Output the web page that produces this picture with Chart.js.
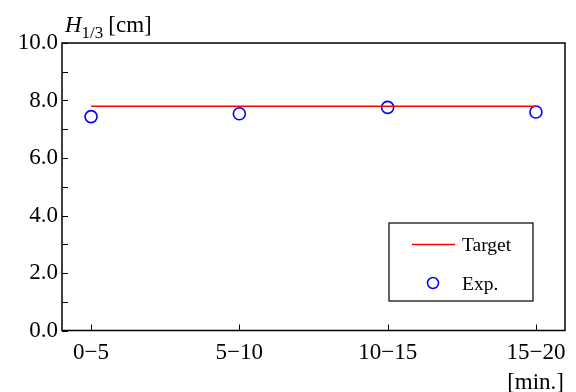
<!DOCTYPE html>
<html>
<head>
<meta charset="utf-8">
<script src="https://cdn.jsdelivr.net/npm/chart.js@4"></script>
<style>
  html, body { margin: 0; padding: 0; background: #fff; }
  #wrap { width: 576px; height: 392px; }
</style>
</head>
<body>
<div id="wrap"><canvas id="c" width="576" height="392"></canvas></div>
<script>
// ── Data ─────────────────────────────────────────────────────────────────────
const categories = ['0\u22125', '5\u221210', '10\u221215', '15\u221220'];
const targetValues = [7.8, 7.8, 7.8, 7.8];
const expValues = [7.44, 7.54, 7.76, 7.6];
const yTicks = [0, 2, 4, 6, 8, 10];
const yMinorTicks = [1, 3, 5, 7, 9];

const FONT = '"Liberation Serif", "Times New Roman", serif';

// ── Frame, inward ticks, axis titles and legend ──────────────────────────────
const framePlugin = {
  id: 'frame',
  afterDraw(chart) {
    const { ctx, chartArea: a, scales } = chart;
    ctx.save();
    ctx.strokeStyle = '#000';
    ctx.lineWidth = 1.5;
    ctx.strokeRect(a.left, a.top, a.right - a.left, a.bottom - a.top);

    // y ticks point inward
    ctx.lineWidth = 1;
    yTicks.concat(yMinorTicks).forEach(v => {
      const y = Math.round(scales.y.getPixelForValue(v)) + 0.5;
      ctx.beginPath();
      ctx.moveTo(a.left, y);
      ctx.lineTo(a.left + 6, y);
      ctx.stroke();
    });
    // x ticks point inward
    categories.forEach((_, i) => {
      const x = Math.round(scales.x.getPixelForValue(i)) + 0.5;
      ctx.beginPath();
      ctx.moveTo(x, a.bottom);
      ctx.lineTo(x, a.bottom - 6);
      ctx.stroke();
    });

    // y axis title: H_{1/3} [cm]
    ctx.fillStyle = '#000';
    ctx.textBaseline = 'alphabetic';
    ctx.textAlign = 'left';
    ctx.font = 'italic 23px ' + FONT;
    let x = 65;
    ctx.fillText('H', x, 32);
    x += ctx.measureText('H').width;
    ctx.font = '17px ' + FONT;
    ctx.fillText('1/3', x, 38);
    x += ctx.measureText('1/3').width + 5;
    ctx.font = '23px ' + FONT;
    ctx.fillText('[cm]', x, 32);

    // x axis title
    ctx.textAlign = 'right';
    ctx.fillText('[min.]', 564, 389);

    // legend box
    const lx = 389, ly = 223, lw = 144, lh = 78;
    ctx.lineWidth = 1.2;
    ctx.strokeRect(lx, ly, lw, lh);
    const ds = chart.data.datasets;
    ctx.strokeStyle = ds[0].borderColor;
    ctx.lineWidth = 1.5;
    ctx.beginPath();
    ctx.moveTo(412, 244.5);
    ctx.lineTo(455, 244.5);
    ctx.stroke();
    ctx.strokeStyle = ds[1].pointBorderColor;
    ctx.beginPath();
    ctx.arc(433, 283, 5.5, 0, Math.PI * 2);
    ctx.stroke();
    ctx.fillStyle = '#000';
    ctx.textAlign = 'left';
    ctx.textBaseline = 'middle';
    ctx.font = '19.5px ' + FONT;
    ctx.fillText(ds[0].label, 462, 246);
    ctx.fillText(ds[1].label, 462, 285);
    ctx.restore();
  }
};

new Chart(document.getElementById('c'), {
  type: 'scatter',
  data: {
    datasets: [
      {
        label: 'Target',
        type: 'line',
        data: targetValues.map((v, i) => ({ x: i, y: v })),
        borderColor: '#ff0000',
        borderWidth: 1.5,
        pointRadius: 0,
        fill: false
      },
      {
        label: 'Exp.',
        data: expValues.map((v, i) => ({ x: i, y: v })),
        pointStyle: 'circle',
        pointRadius: 6,
        pointBorderWidth: 1.6,
        pointBorderColor: '#0000ff',
        pointBackgroundColor: 'rgba(0,0,0,0)'
      }
    ]
  },
  options: {
    responsive: false,
    animation: false,
    devicePixelRatio: 1,
    layout: { padding: { top: 43, right: 11, left: 0, bottom: 0 } },
    plugins: { legend: { display: false }, tooltip: { enabled: false } },
    scales: {
      x: {
        type: 'linear',
        min: -0.196,
        max: 3.196,
        afterBuildTicks: s => { s.ticks = categories.map((_, i) => ({ value: i })); },
        ticks: {
          callback: v => categories[v],
          color: '#000',
          font: { family: FONT, size: 23 },
          padding: 9,
          maxRotation: 0
        },
        grid: { display: false, drawTicks: false },
        border: { display: false },
        afterFit: s => { s.height = 61.5; }
      },
      y: {
        min: 0,
        max: 10,
        afterBuildTicks: s => { s.ticks = yTicks.map(v => ({ value: v })); },
        ticks: {
          callback: v => v.toFixed(1),
          color: '#000',
          font: { family: FONT, size: 23 },
          padding: 4
        },
        grid: { display: false, drawTicks: false },
        border: { display: false },
        afterFit: s => { s.width = 62; }
      }
    }
  },
  plugins: [framePlugin]
});
</script>
</body>
</html>
